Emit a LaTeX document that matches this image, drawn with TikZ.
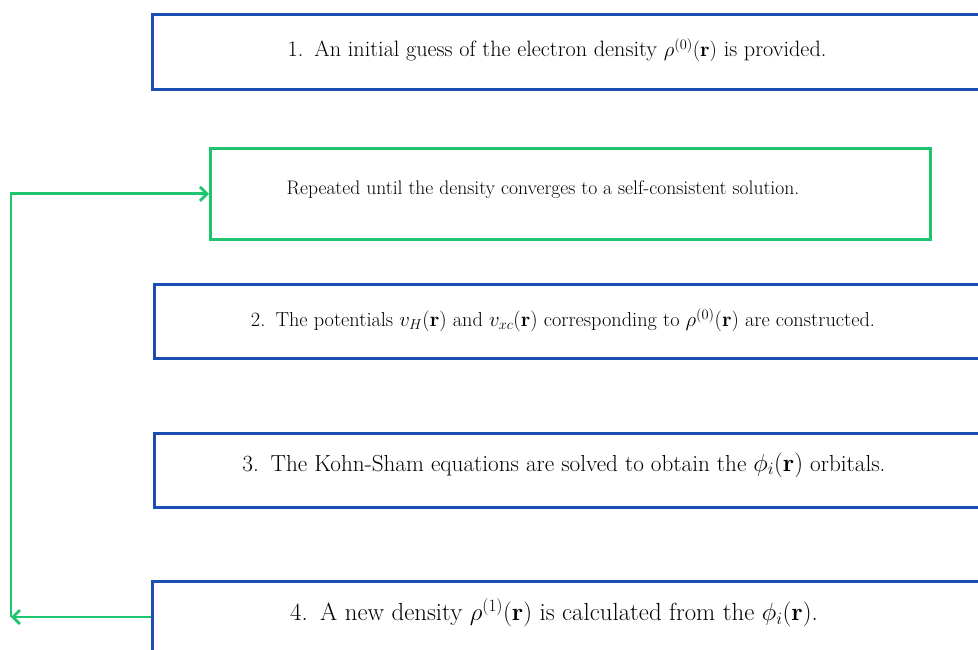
\documentclass[tikz,border=0pt]{standalone}
\usetikzlibrary{arrows.meta}
\definecolor{boxblue}{RGB}{28,78,178}
\definecolor{loopgreen}{RGB}{30,196,110}
\newcommand{\labelgap}{\hspace{0.5em}}
\begin{document}
\begin{tikzpicture}[x=1pt,y=-1pt,
  stepbox/.style={draw=boxblue,line width=2.8pt,rectangle,inner sep=0pt},
  loopbox/.style={draw=loopgreen,line width=2.6pt,rectangle,inner sep=0pt},
  steptext/.style={inner sep=0pt,anchor=center},
  looparrow/.style={draw=loopgreen,line width=2.8pt,-{Straight Barb[length=7pt,width=14pt,line width=2.8pt]}}]
\useasboundingbox (0,0) rectangle (978,650);
\begin{scope}
\clip (0,0) rectangle (978,650);
% step boxes (they run past the right margin)
\node[stepbox,minimum width=850pt,minimum height=75pt,anchor=north west] (b1) at (151,13) {};
\node[loopbox,minimum width=720pt,minimum height=91pt,anchor=north west] (g) at (209,147) {};
\node[stepbox,minimum width=850pt,minimum height=74pt,anchor=north west] (b2) at (153,283) {};
\node[stepbox,minimum width=850pt,minimum height=74pt,anchor=north west] (b3) at (153,432) {};
\node[stepbox,minimum width=850pt,minimum height=90pt,anchor=north west] (b4) at (151,580) {};
\end{scope}
% labels
\node[steptext,font=\fontsize{22.2}{26}\selectfont] (t1) at (557,50) {1.\labelgap An initial guess of the electron density $\rho^{(0)}(\mathbf{r})$ is provided.};
\node[steptext,font=\fontsize{19.6}{23}\selectfont] (tg) at (543,190) {Repeated until the density converges to a self-consistent solution.};
\node[steptext,font=\fontsize{20.3}{24}\selectfont] (t2) at (563,320) {2.\labelgap The potentials $v_H(\mathbf{r})$ and $v_{xc}(\mathbf{r})$ corresponding to $\rho^{(0)}(\mathbf{r})$ are constructed.};
\node[steptext,font=\fontsize{23.2}{27}\selectfont] (t3) at (564,465) {3.\labelgap The Kohn-Sham equations are solved to obtain the $\phi_i(\mathbf{r})$ orbitals.};
\node[steptext,font=\fontsize{24.8}{29}\selectfont] (t4) at (554,613) {4.\labelgap A new density $\rho^{(1)}(\mathbf{r})$ is calculated from the $\phi_i(\mathbf{r})$.};
% feedback loop
\coordinate (turn) at (11,617);
\draw[looparrow] (b4.west |- 0,617) -- (turn);
\draw[looparrow] (turn) |- (g.west);
\end{tikzpicture}
\end{document}
